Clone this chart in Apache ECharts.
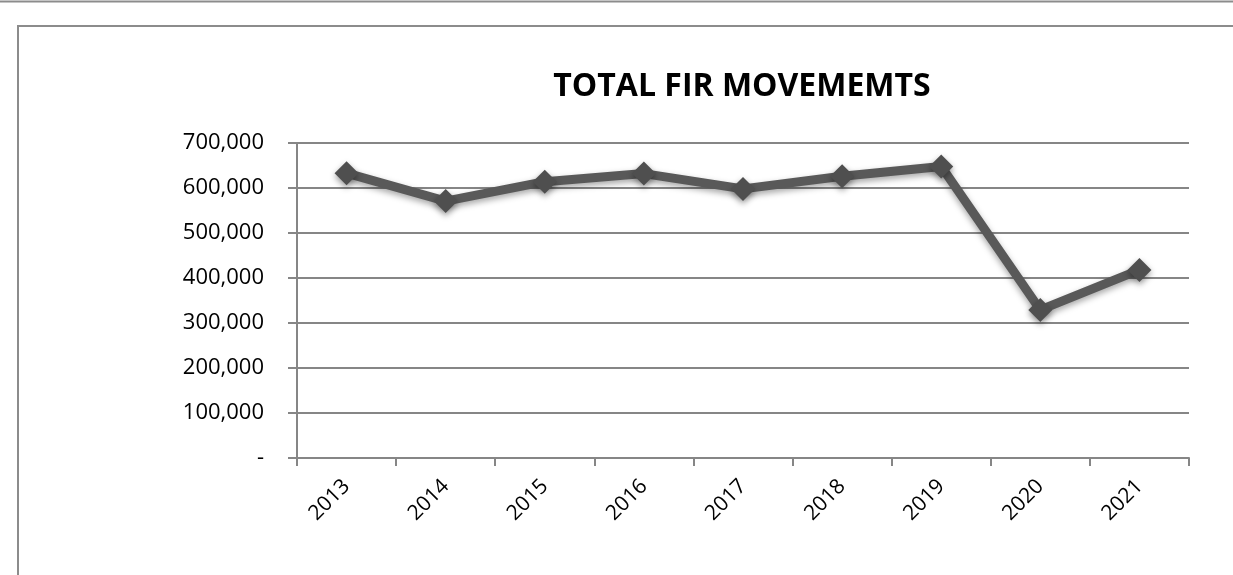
<!DOCTYPE html>
<html>
<head>
<meta charset="utf-8">
<script src="https://cdn.jsdelivr.net/npm/echarts@6/dist/echarts.min.js"></script>
<style>
  html, body { margin: 0; padding: 0; background: #fff; }
  #main { width: 1233px; height: 575px; }
</style>
</head>
<body>
<div id="main"></div>
<script>
// data
var years = ['2013', '2014', '2015', '2016', '2017', '2018', '2019', '2020', '2021'];
var movements = [633000, 571000, 614000, 632000, 598000, 626000, 648000, 329000, 418000];
var chartTitle = 'TOTAL FIR MOVEMEMTS';

var dom = document.getElementById('main');
var myChart = echarts.init(dom);

function fmt(v) {
    if (v === 0) return '-';
    return v.toString().replace(/\B(?=(\d{3})+(?!\d))/g, ',');
}

var option = {
    backgroundColor: '#ffffff',
    animation: false,
    textStyle: { fontFamily: 'Open Sans' },
    graphic: [
        // thin line at very top + outer frame of the chart box
        { type: 'line', shape: { x1: 0, y1: 1.5, x2: 1233, y2: 1.5 }, style: { stroke: '#8c8c8c', lineWidth: 2 } },
        { type: 'line', shape: { x1: 17, y1: 26, x2: 1233, y2: 26 }, style: { stroke: '#8c8c8c', lineWidth: 2 } },
        { type: 'line', shape: { x1: 18, y1: 26, x2: 18, y2: 575 }, style: { stroke: '#8c8c8c', lineWidth: 2 } }
    ],
    title: {
        text: chartTitle,
        left: 737,
        textAlign: 'center',
        top: 66,
        textStyle: { fontFamily: 'Open Sans', fontWeight: 'bold', fontSize: 32, color: '#000' }
    },
    grid: { left: 297, right: 44, top: 143, bottom: 117 },
    xAxis: {
        type: 'category',
        data: years,
        boundaryGap: true,
        axisLine: { lineStyle: { color: '#868686', width: 2 } },
        axisTick: { show: true, length: 8, lineStyle: { color: '#868686', width: 2 } },
        axisLabel: { rotate: 45, margin: 25, fontSize: 21, color: '#000', fontFamily: 'Open Sans' }
    },
    yAxis: {
        type: 'value',
        min: 0,
        max: 700000,
        interval: 100000,
        axisLine: { show: true, lineStyle: { color: '#868686', width: 2 } },
        axisTick: { show: true, length: 9, lineStyle: { color: '#868686', width: 2 } },
        splitLine: { show: true, lineStyle: { color: '#868686', width: 2 } },
        axisLabel: { formatter: fmt, margin: 33, fontSize: 22, color: '#000', fontFamily: 'Open Sans' }
    },
    series: [{
        name: chartTitle,
        type: 'line',
        data: movements,
        symbol: 'diamond',
        symbolSize: 24,
        lineStyle: {
            color: '#595959', width: 9,
            shadowColor: 'rgba(0,0,0,0.35)', shadowBlur: 6, shadowOffsetY: 3
        },
        itemStyle: {
            color: '#4f4f4f',
            shadowColor: 'rgba(0,0,0,0.4)', shadowBlur: 6, shadowOffsetY: 3
        }
    }]
};

if (option && typeof option === 'object') {
    myChart.setOption(option, true);
}
</script>
</body>
</html>
